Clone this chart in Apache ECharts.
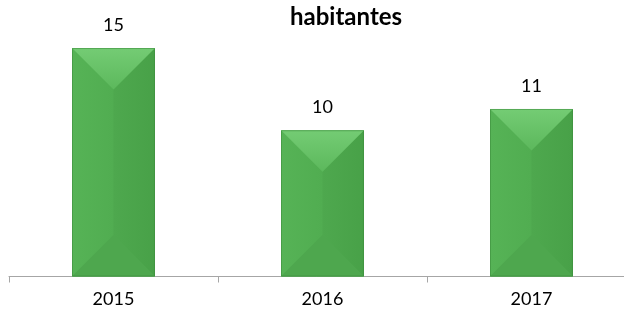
<!DOCTYPE html>
<html>
<head>
<meta charset="utf-8">
<script src="https://cdn.jsdelivr.net/npm/echarts@6/dist/echarts.min.js"></script>
<style>
html,body{margin:0;padding:0;background:#fff;}
#c{width:624px;height:313px;}
</style>
</head>
<body>
<div id="c"></div>
<script>
var titleText = 'habitantes';
var years = ['2015', '2016', '2017'];
var values = [15, 9.6, 11];

var chart = echarts.init(document.getElementById('c'), null, {renderer: 'canvas'});

function renderBevel(params, api) {
  var idx = api.value(0);
  var val = api.value(1);
  var top = api.coord([idx, val]);
  var base = api.coord([idx, 0]);
  var w = api.size([1, 0])[0] * 0.397;
  var x0 = top[0] - w / 2, x1 = top[0] + w / 2;
  var y0 = top[1], y1 = base[1];
  var h = y1 - y0;
  var b = Math.min(w / 2, h / 2);
  var cx = top[0];
  return {
    type: 'group',
    children: [
      {type: 'rect', shape: {x: x0, y: y0, width: w, height: h},
        style: {fill: '#50ab50'}},
      {type: 'polygon', shape: {points: [[x0, y0], [cx, y0 + b], [cx, y1 - b], [x0, y1]]},
        style: {fill: new echarts.graphic.LinearGradient(0, 0, 1, 0, [
          {offset: 0, color: '#56b356'}, {offset: 1, color: '#51ad51'}])}},
      {type: 'polygon', shape: {points: [[x1, y0], [cx, y0 + b], [cx, y1 - b], [x1, y1]]},
        style: {fill: new echarts.graphic.LinearGradient(0, 0, 1, 0, [
          {offset: 0, color: '#4ea84e'}, {offset: 1, color: '#48a148'}])}},
      {type: 'polygon', shape: {points: [[x0, y0], [x1, y0], [cx, y0 + b]]},
        style: {fill: new echarts.graphic.LinearGradient(0, 0, 0, 1, [
          {offset: 0, color: '#74cc74'}, {offset: 1, color: '#5cb85c'}])}},
      {type: 'polygon', shape: {points: [[x0, y1], [x1, y1], [cx, y1 - b]]},
        style: {fill: '#4ea74e'}},
      {type: 'rect', shape: {x: x0 + 0.5, y: y0 + 0.5, width: w - 1, height: h - 1},
        style: {fill: null, stroke: '#3d8a3d', lineWidth: 1, opacity: 0.55}},
      {type: 'text', x: cx, y: y0 - 23,
        style: {text: String(Math.round(val)), fill: '#000', fontSize: 18,
          fontFamily: 'Lato', align: 'center', verticalAlign: 'middle'}}
    ]
  };
}

chart.setOption({
  animation: false,
  backgroundColor: '#fff',
  title: {
    text: titleText,
    left: 285,
    top: 0,
    textStyle: {fontFamily: 'Lato', fontWeight: 'bold', fontSize: 24, color: '#000'}
  },
  grid: {left: 9, width: 627, top: 32.8, bottom: 36.5, containLabel: false, outerBoundsMode: 'none'},
  xAxis: {
    type: 'category',
    data: years,
    boundaryGap: true,
    axisLine: {show: true, lineStyle: {color: '#a6a6a6', width: 1}},
    axisTick: {show: true, length: 6, lineStyle: {color: '#a6a6a6'}},
    axisLabel: {color: '#000', fontSize: 18, fontFamily: 'Lato', margin: 14}
  },
  yAxis: {
    type: 'value', min: 0, max: 16, show: false,
    splitLine: {show: false}
  },
  series: [{
    type: 'custom',
    renderItem: renderBevel,
    encode: {x: 0, y: 1},
    data: years.map(function (y, i) { return [i, values[i]]; })
  }]
});
</script>
</body>
</html>
